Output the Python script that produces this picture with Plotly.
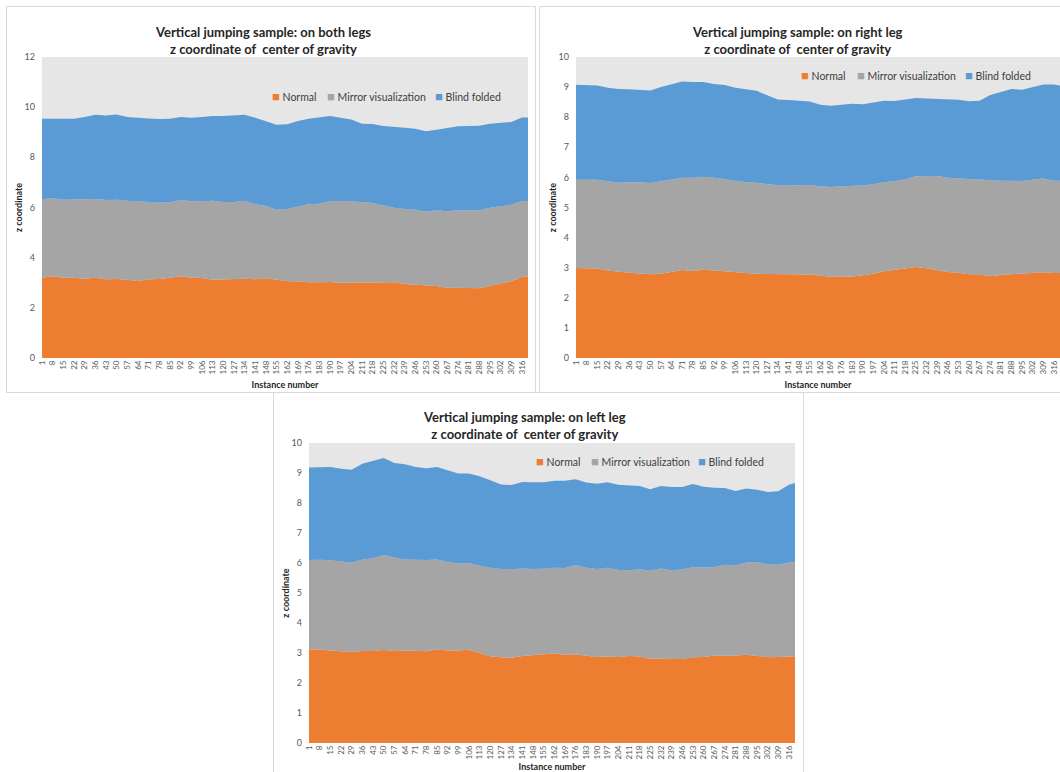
import plotly.graph_objects as go

W, H = 1060, 772

# Instance numbers sampled along each recording (every 7th instance plus the last one)
instances = list(range(1, 317, 7)) + [320]
tick_labels = list(range(1, 317, 7))

series_names = ["Normal", "Mirror visualization", "Blind folded"]
series_colors = ["#ED7D31", "#A5A5A5", "#5B9BD5"]

# --- Vertical jumping on both legs ---
both_normal = [3.20, 3.26, 3.20, 3.20, 3.16, 3.20, 3.14, 3.15, 3.12, 3.07, 3.14, 3.15, 3.20, 3.26, 3.20, 3.19,
               3.12, 3.14, 3.15, 3.16, 3.14, 3.18, 3.12, 3.06, 3.06, 3.02, 3.02, 3.03, 3.00, 3.00, 3.00, 3.03,
               3.02, 3.02, 2.95, 2.92, 2.90, 2.87, 2.80, 2.78, 2.79, 2.78, 2.88, 2.98, 3.06, 3.23, 3.26]
both_mirror = [3.13, 3.11, 3.11, 3.11, 3.15, 3.14, 3.16, 3.16, 3.15, 3.16, 3.08, 3.04, 3.01, 3.04, 3.05, 3.06,
               3.15, 3.08, 3.07, 3.11, 2.99, 2.88, 2.79, 2.88, 2.99, 3.11, 3.13, 3.22, 3.26, 3.25, 3.22, 3.15,
               3.07, 2.97, 2.99, 2.99, 2.93, 3.02, 3.05, 3.11, 3.10, 3.11, 3.11, 3.07, 3.05, 3.03, 3.00]
both_blind = [3.21, 3.17, 3.22, 3.23, 3.30, 3.36, 3.37, 3.40, 3.34, 3.34, 3.33, 3.34, 3.33, 3.31, 3.33, 3.36,
              3.38, 3.43, 3.44, 3.43, 3.45, 3.39, 3.39, 3.38, 3.40, 3.41, 3.46, 3.40, 3.32, 3.26, 3.12, 3.15,
              3.16, 3.21, 3.24, 3.23, 3.21, 3.21, 3.33, 3.35, 3.36, 3.37, 3.35, 3.33, 3.30, 3.33, 3.33]

# --- Vertical jumping on right leg ---
right_normal = [2.99, 2.98, 2.97, 2.91, 2.86, 2.83, 2.81, 2.78, 2.80, 2.86, 2.92, 2.89, 2.93, 2.91, 2.88, 2.86,
                2.81, 2.80, 2.79, 2.79, 2.78, 2.77, 2.77, 2.74, 2.70, 2.71, 2.71, 2.75, 2.80, 2.88, 2.93, 2.98,
                3.02, 2.98, 2.91, 2.86, 2.83, 2.78, 2.78, 2.72, 2.76, 2.78, 2.80, 2.82, 2.85, 2.82, 2.82]
right_mirror = [2.93, 2.94, 2.95, 2.96, 2.96, 3.01, 3.03, 3.03, 3.07, 3.05, 3.07, 3.10, 3.09, 3.08, 3.06, 3.03,
                3.03, 3.02, 2.98, 2.95, 2.95, 2.98, 2.98, 2.97, 2.98, 3.00, 3.00, 2.98, 2.97, 2.96, 2.94, 2.96,
                3.02, 3.07, 3.14, 3.13, 3.14, 3.16, 3.16, 3.19, 3.13, 3.11, 3.08, 3.10, 3.11, 3.07, 3.07]
right_blind = [3.16, 3.14, 3.13, 3.11, 3.12, 3.09, 3.07, 3.08, 3.13, 3.18, 3.20, 3.18, 3.15, 3.11, 3.13, 3.09,
               3.10, 3.06, 2.96, 2.85, 2.84, 2.79, 2.77, 2.70, 2.70, 2.70, 2.74, 2.70, 2.72, 2.71, 2.67, 2.64,
               2.60, 2.57, 2.55, 2.59, 2.61, 2.59, 2.61, 2.83, 2.94, 3.05, 3.03, 3.09, 3.13, 3.20, 3.16]

# --- Vertical jumping on left leg ---
left_normal = [3.12, 3.12, 3.08, 3.06, 3.03, 3.07, 3.07, 3.10, 3.07, 3.08, 3.06, 3.06, 3.12, 3.08, 3.08, 3.11,
               3.00, 2.89, 2.86, 2.84, 2.90, 2.92, 2.96, 2.98, 2.94, 2.96, 2.91, 2.87, 2.88, 2.87, 2.90, 2.88,
               2.81, 2.82, 2.80, 2.80, 2.86, 2.87, 2.92, 2.92, 2.91, 2.94, 2.89, 2.86, 2.87, 2.89, 2.89]
left_mirror = [2.98, 2.99, 3.01, 3.00, 2.98, 3.05, 3.09, 3.17, 3.11, 3.04, 3.04, 3.04, 3.00, 2.95, 2.90, 2.88,
               2.91, 2.95, 2.94, 2.95, 2.92, 2.88, 2.85, 2.86, 2.89, 2.97, 2.93, 2.93, 2.96, 2.90, 2.86, 2.91,
               2.93, 3.00, 2.96, 2.98, 3.01, 2.97, 2.95, 3.02, 3.01, 3.08, 3.14, 3.10, 3.07, 3.13, 3.13]
left_blind = [3.08, 3.07, 3.11, 3.08, 3.10, 3.19, 3.24, 3.23, 3.15, 3.17, 3.10, 3.06, 3.08, 3.06, 3.00, 2.99,
              2.98, 2.92, 2.82, 2.81, 2.88, 2.89, 2.88, 2.90, 2.91, 2.86, 2.84, 2.84, 2.85, 2.84, 2.83, 2.78,
              2.72, 2.75, 2.77, 2.75, 2.76, 2.70, 2.64, 2.56, 2.48, 2.46, 2.41, 2.41, 2.45, 2.59, 2.65]

FONT = "Lato, 'Open Sans', sans-serif"
TEXT_DARK = "#262626"
TICK_GREY = "#595959"
PLOT_BG = "#E7E6E6"
BORDER = "#D9D9D9"


def fx(px):
    return px / W


def fy(px):
    return 1 - px / H


panels = [
    dict(title="Vertical jumping sample: on both legs",
         data=[both_normal, both_mirror, both_blind], ymax=12, dtick=2,
         plot=(42, 528, 57, 358), box=(6.5, 535.5, 6.5, 392.5),
         title_xy=(263, 40.5), legend_y=96, legend_x=(270, 325, 433)),
    dict(title="Vertical jumping sample: on right leg",
         data=[right_normal, right_mirror, right_blind], ymax=10, dtick=1,
         plot=(576, 1060, 57, 358), box=(539.5, 1070, 6.5, 392.5),
         title_xy=(797, 40.5), legend_y=75, legend_x=(799, 855, 963)),
    dict(title="Vertical jumping sample: on left leg",
         data=[left_normal, left_mirror, left_blind], ymax=10, dtick=1,
         plot=(309, 795, 443, 743), box=(273.5, 803.5, 392.5, 800),
         title_xy=(524, 426), legend_y=461, legend_x=(534, 589, 696)),
]

fig = go.Figure()
shapes = []
annotations = []

for i, p in enumerate(panels, start=1):
    xa = "x" if i == 1 else f"x{i}"
    ya = "y" if i == 1 else f"y{i}"
    for name, vals, color in zip(series_names, p["data"], series_colors):
        fig.add_trace(go.Scatter(
            x=instances, y=vals, name=name, xaxis=xa, yaxis=ya,
            mode="lines", line=dict(width=0, color=color),
            fillcolor=color, stackgroup=f"panel{i}", showlegend=False,
            hoverinfo="x+y+name",
        ))

    x0, x1, y0, y1 = p["plot"]
    axis_key = "" if i == 1 else str(i)
    fig.update_layout(**{
        f"xaxis{axis_key}": dict(
            domain=[fx(x0), fx(x1)], anchor=ya, range=[1, 320],
            tickmode="array", tickvals=tick_labels, ticktext=[str(t) for t in tick_labels],
            tickangle=-90, tickfont=dict(size=8, color=TICK_GREY, family=FONT),
            showgrid=False, zeroline=False, showline=False, ticks="",
            title=dict(text="<b>Instance number</b>", font=dict(size=9, color=TEXT_DARK, family=FONT),
                       standoff=8),
            automargin=False,
        ),
        f"yaxis{axis_key}": dict(
            domain=[fy(y1), fy(y0)], anchor=xa, range=[0, p["ymax"]], dtick=p["dtick"],
            tickfont=dict(size=9, color=TICK_GREY, family=FONT),
            showgrid=False, zeroline=False, showline=False, ticks="",
            ticklabelstandoff=6,
            title=dict(text="<b>z coordinate</b>", font=dict(size=9, color=TEXT_DARK, family=FONT),
                       standoff=0),
            automargin=False,
        ),
    })

    bx0, bx1, by0, by1 = p["box"]
    shapes.append(dict(type="rect", xref="paper", yref="paper",
                       x0=fx(bx0), x1=fx(bx1), y0=fy(by1), y1=fy(by0),
                       line=dict(color=BORDER, width=1), fillcolor="rgba(0,0,0,0)", layer="below"))

    tx, ty = p["title_xy"]
    annotations.append(dict(
        xref="paper", yref="paper", x=fx(tx), y=fy(ty), xanchor="center", yanchor="middle",
        text=f"<b>{p['title']}</b><br><b>z coordinate of\u00a0 center of gravity</b>",
        showarrow=False, font=dict(size=13, color=TEXT_DARK, family=FONT), align="center",
    ))

    # legend row: coloured square + series name
    for sx, name, color in zip(p["legend_x"], series_names, series_colors):
        annotations.append(dict(
            xref="paper", yref="paper", x=fx(sx), y=fy(p["legend_y"]), xanchor="left", yanchor="middle",
            text=f"<span style='color:{color};font-size:13px'>■</span> {name}", showarrow=False,
            font=dict(size=10.5, color="#404040", family=FONT),
        ))

fig.update_layout(
    width=W, height=H, margin=dict(l=0, r=0, t=0, b=0),
    paper_bgcolor="white", plot_bgcolor=PLOT_BG,
    font=dict(family=FONT, color=TEXT_DARK),
    shapes=shapes, annotations=annotations, showlegend=False,
)

fig.write_html("out.html")
